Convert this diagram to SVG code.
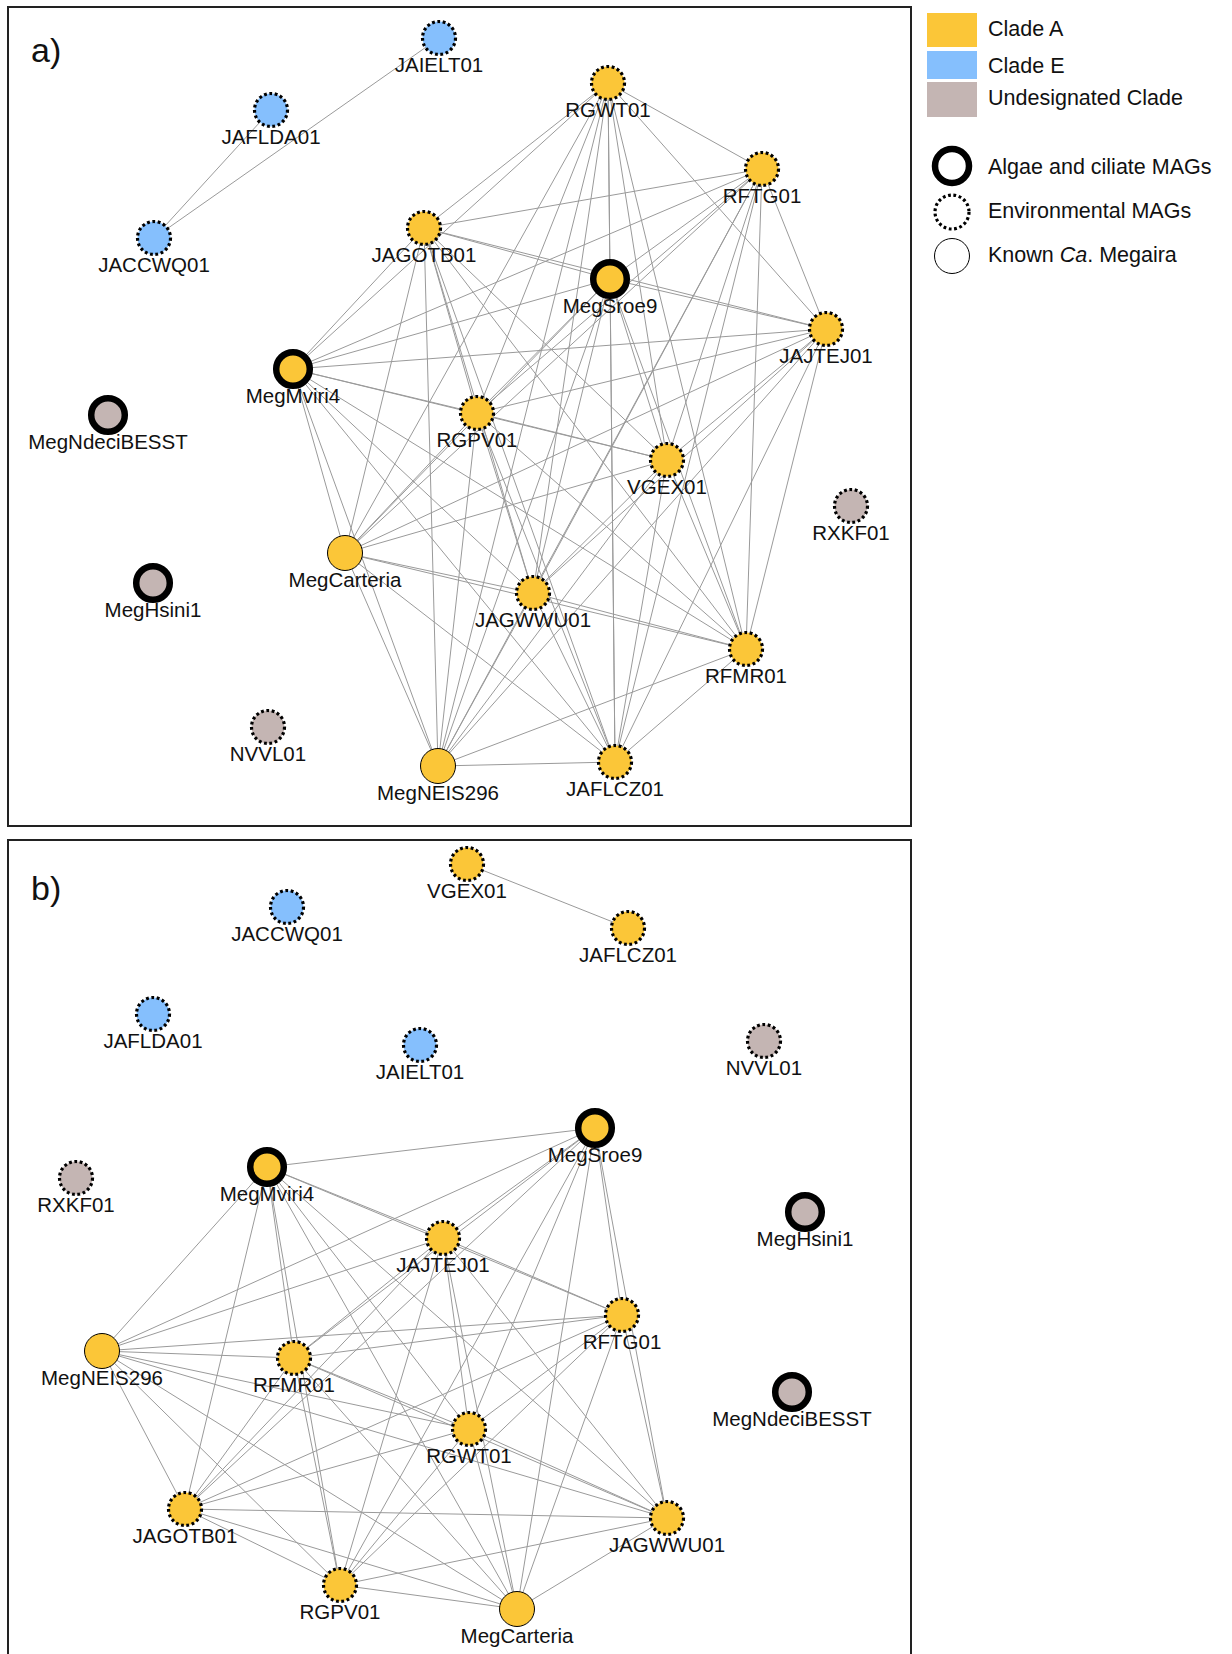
<svg xmlns="http://www.w3.org/2000/svg" width="1232" height="1654" viewBox="0 0 1232 1654">
<style>
text{font-family:"Liberation Sans",Arial,sans-serif;fill:#111}
.lbl{font-size:20.5px;text-anchor:middle}
.leg{font-size:21.5px}
.pl{font-size:34px}
.frame{fill:none;stroke:#222;stroke-width:2}
#edges line{stroke:#9a9a9a;stroke-width:1}
.ya{fill:#FBC638}
.bl{fill:#85BFFD}
.gr{fill:#C4B5B3}
.env{stroke:#000;stroke-width:3.2;stroke-dasharray:2.8 2.6}
.alg{stroke:#000;stroke-width:6.5}
.known{stroke:#000;stroke-width:1}
</style>
<rect width="1232" height="1654" fill="#fff"/>
<rect class="frame" x="8" y="7" width="903" height="819"/>
<rect class="frame" x="8" y="840" width="903" height="830"/>
<text class="pl" x="31" y="62">a)</text>
<text class="pl" x="31" y="900">b)</text>

<g id="edges">
<line x1="439" y1="38" x2="154" y2="238"/>
<line x1="271" y1="110" x2="154" y2="238"/>
<line x1="608" y1="83" x2="762" y2="169"/>
<line x1="608" y1="83" x2="424" y2="228"/>
<line x1="608" y1="83" x2="610" y2="279"/>
<line x1="608" y1="83" x2="826" y2="329"/>
<line x1="608" y1="83" x2="293" y2="369"/>
<line x1="608" y1="83" x2="477" y2="413"/>
<line x1="608" y1="83" x2="667" y2="460"/>
<line x1="608" y1="83" x2="345" y2="553"/>
<line x1="608" y1="83" x2="533" y2="593"/>
<line x1="608" y1="83" x2="746" y2="649"/>
<line x1="608" y1="83" x2="438" y2="766"/>
<line x1="608" y1="83" x2="615" y2="762"/>
<line x1="762" y1="169" x2="424" y2="228"/>
<line x1="762" y1="169" x2="610" y2="279"/>
<line x1="762" y1="169" x2="826" y2="329"/>
<line x1="762" y1="169" x2="293" y2="369"/>
<line x1="762" y1="169" x2="477" y2="413"/>
<line x1="762" y1="169" x2="667" y2="460"/>
<line x1="762" y1="169" x2="345" y2="553"/>
<line x1="762" y1="169" x2="533" y2="593"/>
<line x1="762" y1="169" x2="746" y2="649"/>
<line x1="762" y1="169" x2="438" y2="766"/>
<line x1="762" y1="169" x2="615" y2="762"/>
<line x1="424" y1="228" x2="610" y2="279"/>
<line x1="424" y1="228" x2="826" y2="329"/>
<line x1="424" y1="228" x2="293" y2="369"/>
<line x1="424" y1="228" x2="477" y2="413"/>
<line x1="424" y1="228" x2="667" y2="460"/>
<line x1="424" y1="228" x2="345" y2="553"/>
<line x1="424" y1="228" x2="533" y2="593"/>
<line x1="424" y1="228" x2="746" y2="649"/>
<line x1="424" y1="228" x2="438" y2="766"/>
<line x1="424" y1="228" x2="615" y2="762"/>
<line x1="610" y1="279" x2="826" y2="329"/>
<line x1="610" y1="279" x2="293" y2="369"/>
<line x1="610" y1="279" x2="477" y2="413"/>
<line x1="610" y1="279" x2="667" y2="460"/>
<line x1="610" y1="279" x2="345" y2="553"/>
<line x1="610" y1="279" x2="533" y2="593"/>
<line x1="610" y1="279" x2="746" y2="649"/>
<line x1="610" y1="279" x2="438" y2="766"/>
<line x1="610" y1="279" x2="615" y2="762"/>
<line x1="826" y1="329" x2="293" y2="369"/>
<line x1="826" y1="329" x2="477" y2="413"/>
<line x1="826" y1="329" x2="667" y2="460"/>
<line x1="826" y1="329" x2="345" y2="553"/>
<line x1="826" y1="329" x2="533" y2="593"/>
<line x1="826" y1="329" x2="746" y2="649"/>
<line x1="826" y1="329" x2="438" y2="766"/>
<line x1="826" y1="329" x2="615" y2="762"/>
<line x1="293" y1="369" x2="477" y2="413"/>
<line x1="293" y1="369" x2="667" y2="460"/>
<line x1="293" y1="369" x2="345" y2="553"/>
<line x1="293" y1="369" x2="533" y2="593"/>
<line x1="293" y1="369" x2="746" y2="649"/>
<line x1="293" y1="369" x2="438" y2="766"/>
<line x1="293" y1="369" x2="615" y2="762"/>
<line x1="477" y1="413" x2="667" y2="460"/>
<line x1="477" y1="413" x2="345" y2="553"/>
<line x1="477" y1="413" x2="533" y2="593"/>
<line x1="477" y1="413" x2="746" y2="649"/>
<line x1="477" y1="413" x2="438" y2="766"/>
<line x1="477" y1="413" x2="615" y2="762"/>
<line x1="667" y1="460" x2="345" y2="553"/>
<line x1="667" y1="460" x2="533" y2="593"/>
<line x1="667" y1="460" x2="746" y2="649"/>
<line x1="667" y1="460" x2="438" y2="766"/>
<line x1="667" y1="460" x2="615" y2="762"/>
<line x1="345" y1="553" x2="533" y2="593"/>
<line x1="345" y1="553" x2="746" y2="649"/>
<line x1="345" y1="553" x2="438" y2="766"/>
<line x1="345" y1="553" x2="615" y2="762"/>
<line x1="533" y1="593" x2="746" y2="649"/>
<line x1="533" y1="593" x2="438" y2="766"/>
<line x1="533" y1="593" x2="615" y2="762"/>
<line x1="746" y1="649" x2="438" y2="766"/>
<line x1="746" y1="649" x2="615" y2="762"/>
<line x1="438" y1="766" x2="615" y2="762"/>

<line x1="467" y1="864" x2="628" y2="928"/>
<line x1="267" y1="1167" x2="595" y2="1128"/>
<line x1="267" y1="1167" x2="443" y2="1238"/>
<line x1="267" y1="1167" x2="622" y2="1315"/>
<line x1="267" y1="1167" x2="102" y2="1351"/>
<line x1="267" y1="1167" x2="294" y2="1358"/>
<line x1="267" y1="1167" x2="469" y2="1429"/>
<line x1="267" y1="1167" x2="185" y2="1509"/>
<line x1="267" y1="1167" x2="340" y2="1585"/>
<line x1="267" y1="1167" x2="517" y2="1609"/>
<line x1="267" y1="1167" x2="667" y2="1518"/>
<line x1="595" y1="1128" x2="443" y2="1238"/>
<line x1="595" y1="1128" x2="622" y2="1315"/>
<line x1="595" y1="1128" x2="102" y2="1351"/>
<line x1="595" y1="1128" x2="294" y2="1358"/>
<line x1="595" y1="1128" x2="469" y2="1429"/>
<line x1="595" y1="1128" x2="185" y2="1509"/>
<line x1="595" y1="1128" x2="340" y2="1585"/>
<line x1="595" y1="1128" x2="517" y2="1609"/>
<line x1="595" y1="1128" x2="667" y2="1518"/>
<line x1="443" y1="1238" x2="622" y2="1315"/>
<line x1="443" y1="1238" x2="102" y2="1351"/>
<line x1="443" y1="1238" x2="294" y2="1358"/>
<line x1="443" y1="1238" x2="469" y2="1429"/>
<line x1="443" y1="1238" x2="185" y2="1509"/>
<line x1="443" y1="1238" x2="340" y2="1585"/>
<line x1="443" y1="1238" x2="517" y2="1609"/>
<line x1="443" y1="1238" x2="667" y2="1518"/>
<line x1="622" y1="1315" x2="102" y2="1351"/>
<line x1="622" y1="1315" x2="294" y2="1358"/>
<line x1="622" y1="1315" x2="469" y2="1429"/>
<line x1="622" y1="1315" x2="185" y2="1509"/>
<line x1="622" y1="1315" x2="340" y2="1585"/>
<line x1="622" y1="1315" x2="517" y2="1609"/>
<line x1="622" y1="1315" x2="667" y2="1518"/>
<line x1="102" y1="1351" x2="294" y2="1358"/>
<line x1="102" y1="1351" x2="469" y2="1429"/>
<line x1="102" y1="1351" x2="185" y2="1509"/>
<line x1="102" y1="1351" x2="340" y2="1585"/>
<line x1="102" y1="1351" x2="517" y2="1609"/>
<line x1="102" y1="1351" x2="667" y2="1518"/>
<line x1="294" y1="1358" x2="469" y2="1429"/>
<line x1="294" y1="1358" x2="185" y2="1509"/>
<line x1="294" y1="1358" x2="340" y2="1585"/>
<line x1="294" y1="1358" x2="517" y2="1609"/>
<line x1="294" y1="1358" x2="667" y2="1518"/>
<line x1="469" y1="1429" x2="185" y2="1509"/>
<line x1="469" y1="1429" x2="340" y2="1585"/>
<line x1="469" y1="1429" x2="517" y2="1609"/>
<line x1="469" y1="1429" x2="667" y2="1518"/>
<line x1="185" y1="1509" x2="340" y2="1585"/>
<line x1="185" y1="1509" x2="517" y2="1609"/>
<line x1="185" y1="1509" x2="667" y2="1518"/>
<line x1="340" y1="1585" x2="517" y2="1609"/>
<line x1="340" y1="1585" x2="667" y2="1518"/>
<line x1="517" y1="1609" x2="667" y2="1518"/>
</g>

<!-- panel a nodes -->
<g id="a-JAIELT01"><circle class="bl env" cx="439" cy="38" r="16.5"/><text class="lbl" x="439" y="72">JAIELT01</text></g>
<g id="a-JAFLDA01"><circle class="bl env" cx="271" cy="110" r="16.5"/><text class="lbl" x="271" y="144">JAFLDA01</text></g>
<g id="a-JACCWQ01"><circle class="bl env" cx="154" cy="238" r="16.5"/><text class="lbl" x="154" y="272">JACCWQ01</text></g>
<g id="a-RGWT01"><circle class="ya env" cx="608" cy="83" r="16.5"/><text class="lbl" x="608" y="117">RGWT01</text></g>
<g id="a-RFTG01"><circle class="ya env" cx="762" cy="169" r="16.5"/><text class="lbl" x="762" y="203">RFTG01</text></g>
<g id="a-JAGOTB01"><circle class="ya env" cx="424" cy="228" r="16.5"/><text class="lbl" x="424" y="262">JAGOTB01</text></g>
<g id="a-MegSroe9"><circle class="ya alg" cx="610" cy="279" r="16.8"/><text class="lbl" x="610" y="313">MegSroe9</text></g>
<g id="a-JAJTEJ01"><circle class="ya env" cx="826" cy="329" r="16.5"/><text class="lbl" x="826" y="363">JAJTEJ01</text></g>
<g id="a-MegMviri4"><circle class="ya alg" cx="293" cy="369" r="16.8"/><text class="lbl" x="293" y="403">MegMviri4</text></g>
<g id="a-MegNdeciBESST"><circle class="gr alg" cx="108" cy="415" r="16.8"/><text class="lbl" x="108" y="449">MegNdeciBESST</text></g>
<g id="a-RGPV01"><circle class="ya env" cx="477" cy="413" r="16.5"/><text class="lbl" x="477" y="447">RGPV01</text></g>
<g id="a-VGEX01"><circle class="ya env" cx="667" cy="460" r="16.5"/><text class="lbl" x="667" y="494">VGEX01</text></g>
<g id="a-RXKF01"><circle class="gr env" cx="851" cy="506" r="16.5"/><text class="lbl" x="851" y="540">RXKF01</text></g>
<g id="a-MegCarteria"><circle class="ya known" cx="345" cy="553" r="17.5"/><text class="lbl" x="345" y="587">MegCarteria</text></g>
<g id="a-MegHsini1"><circle class="gr alg" cx="153" cy="583" r="16.8"/><text class="lbl" x="153" y="617">MegHsini1</text></g>
<g id="a-JAGWWU01"><circle class="ya env" cx="533" cy="593" r="16.5"/><text class="lbl" x="533" y="627">JAGWWU01</text></g>
<g id="a-RFMR01"><circle class="ya env" cx="746" cy="649" r="16.5"/><text class="lbl" x="746" y="683">RFMR01</text></g>
<g id="a-NVVL01"><circle class="gr env" cx="268" cy="727" r="16.5"/><text class="lbl" x="268" y="761">NVVL01</text></g>
<g id="a-MegNEIS296"><circle class="ya known" cx="438" cy="766" r="17.5"/><text class="lbl" x="438" y="800">MegNEIS296</text></g>
<g id="a-JAFLCZ01"><circle class="ya env" cx="615" cy="762" r="16.5"/><text class="lbl" x="615" y="796">JAFLCZ01</text></g>

<!-- panel b nodes -->
<g id="b-VGEX01"><circle class="ya env" cx="467" cy="864" r="16.5"/><text class="lbl" x="467" y="898">VGEX01</text></g>
<g id="b-JACCWQ01"><circle class="bl env" cx="287" cy="907" r="16.5"/><text class="lbl" x="287" y="941">JACCWQ01</text></g>
<g id="b-JAFLCZ01"><circle class="ya env" cx="628" cy="928" r="16.5"/><text class="lbl" x="628" y="962">JAFLCZ01</text></g>
<g id="b-JAFLDA01"><circle class="bl env" cx="153" cy="1014" r="16.5"/><text class="lbl" x="153" y="1048">JAFLDA01</text></g>
<g id="b-JAIELT01"><circle class="bl env" cx="420" cy="1045" r="16.5"/><text class="lbl" x="420" y="1079">JAIELT01</text></g>
<g id="b-NVVL01"><circle class="gr env" cx="764" cy="1041" r="16.5"/><text class="lbl" x="764" y="1075">NVVL01</text></g>
<g id="b-MegSroe9"><circle class="ya alg" cx="595" cy="1128" r="16.8"/><text class="lbl" x="595" y="1162">MegSroe9</text></g>
<g id="b-RXKF01"><circle class="gr env" cx="76" cy="1178" r="16.5"/><text class="lbl" x="76" y="1212">RXKF01</text></g>
<g id="b-MegMviri4"><circle class="ya alg" cx="267" cy="1167" r="16.8"/><text class="lbl" x="267" y="1201">MegMviri4</text></g>
<g id="b-MegHsini1"><circle class="gr alg" cx="805" cy="1212" r="16.8"/><text class="lbl" x="805" y="1246">MegHsini1</text></g>
<g id="b-JAJTEJ01"><circle class="ya env" cx="443" cy="1238" r="16.5"/><text class="lbl" x="443" y="1272">JAJTEJ01</text></g>
<g id="b-RFTG01"><circle class="ya env" cx="622" cy="1315" r="16.5"/><text class="lbl" x="622" y="1349">RFTG01</text></g>
<g id="b-MegNEIS296"><circle class="ya known" cx="102" cy="1351" r="17.5"/><text class="lbl" x="102" y="1385">MegNEIS296</text></g>
<g id="b-RFMR01"><circle class="ya env" cx="294" cy="1358" r="16.5"/><text class="lbl" x="294" y="1392">RFMR01</text></g>
<g id="b-MegNdeciBESST"><circle class="gr alg" cx="792" cy="1392" r="16.8"/><text class="lbl" x="792" y="1426">MegNdeciBESST</text></g>
<g id="b-RGWT01"><circle class="ya env" cx="469" cy="1429" r="16.5"/><text class="lbl" x="469" y="1463">RGWT01</text></g>
<g id="b-JAGOTB01"><circle class="ya env" cx="185" cy="1509" r="16.5"/><text class="lbl" x="185" y="1543">JAGOTB01</text></g>
<g id="b-JAGWWU01"><circle class="ya env" cx="667" cy="1518" r="16.5"/><text class="lbl" x="667" y="1552">JAGWWU01</text></g>
<g id="b-RGPV01"><circle class="ya env" cx="340" cy="1585" r="16.5"/><text class="lbl" x="340" y="1619">RGPV01</text></g>
<g id="b-MegCarteria"><circle class="ya known" cx="517" cy="1609" r="17.5"/><text class="lbl" x="517" y="1643">MegCarteria</text></g>

<!-- legend -->
<g id="legend">
<rect class="ya" x="927" y="13" width="50" height="34"/>
<rect class="bl" x="927" y="51" width="50" height="28"/>
<rect class="gr" x="927" y="82" width="50" height="35"/>
<text class="leg" x="988" y="36">Clade A</text>
<text class="leg" x="988" y="73">Clade E</text>
<text class="leg" x="988" y="105">Undesignated Clade</text>
<circle cx="952" cy="166" r="17" fill="#fff" class="alg"/>
<circle cx="952" cy="212" r="17" fill="#fff" class="env"/>
<circle cx="952" cy="256" r="17.5" fill="#fff" class="known"/>
<text class="leg" x="988" y="174">Algae and ciliate MAGs</text>
<text class="leg" x="988" y="218">Environmental MAGs</text>
<text class="leg" x="988" y="262">Known <tspan font-style="italic">Ca</tspan>. Megaira</text>
</g>
</svg>
